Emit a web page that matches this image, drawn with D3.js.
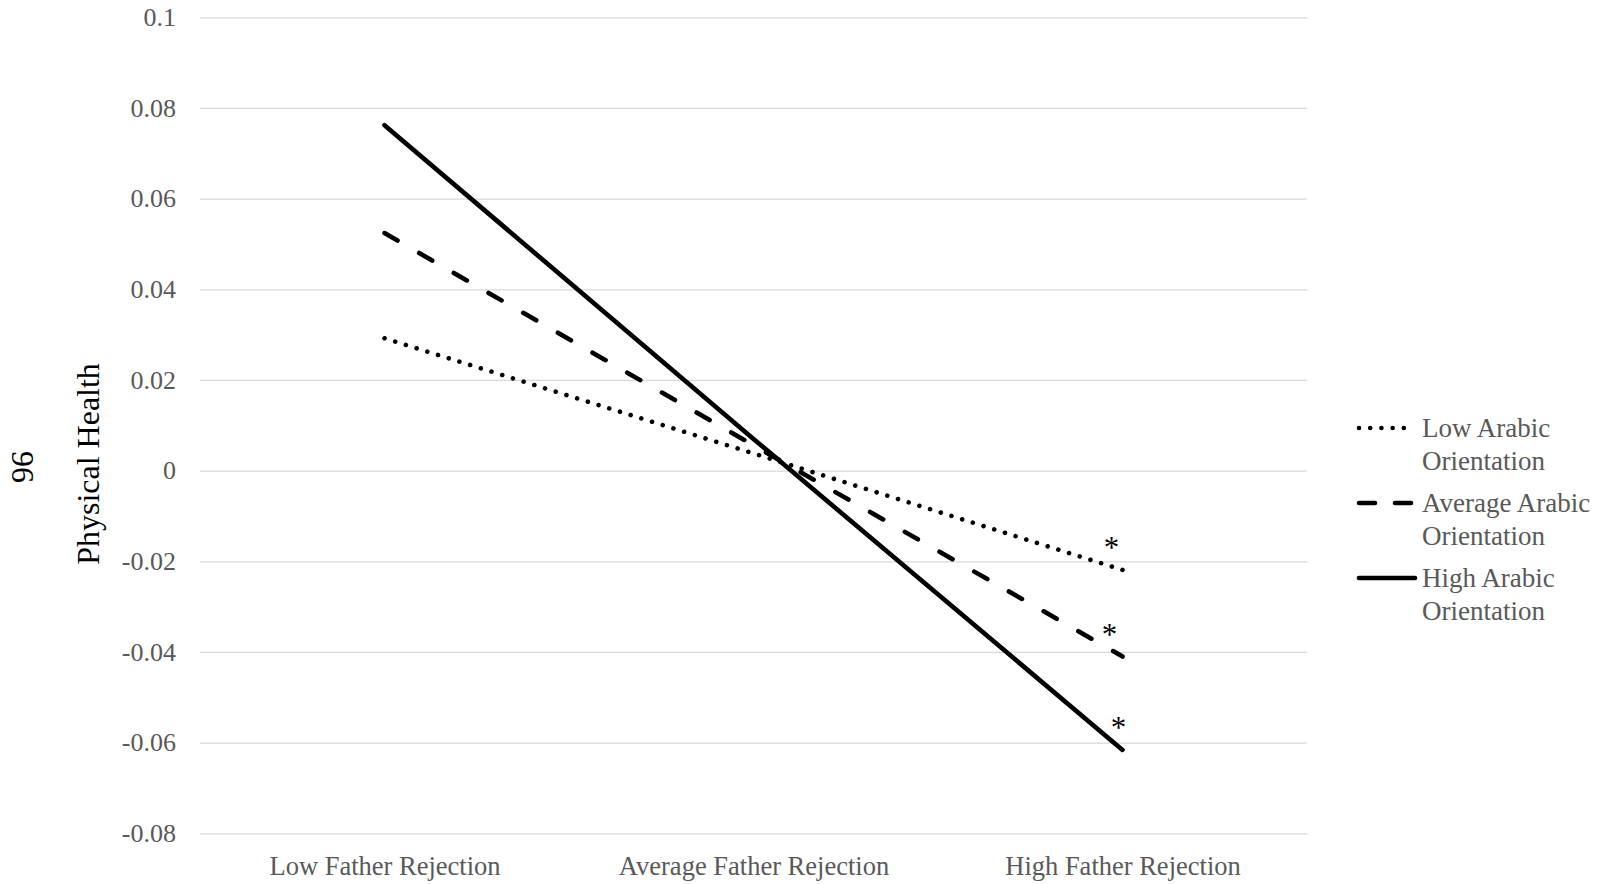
<!DOCTYPE html>
<html>
<head>
<meta charset="utf-8">
<script src="https://cdn.jsdelivr.net/npm/d3@7"></script>
<style>
  html, body { margin: 0; padding: 0; background: #fff; }
  svg { display: block; }
  text { font-family: "Liberation Serif", "Times New Roman", serif; }
</style>
</head>
<body>
<svg id="chart" width="1601" height="884"></svg>
<script>
// categories on the x axis
const categories = ["Low Father Rejection", "Average Father Rejection", "High Father Rejection"]
// simple slopes, one per level of Arabic orientation
const lowArabic = [0.0292, 0.0038, -0.0219]
const averageArabic = [0.0524, 0.0056, -0.0410]
const highArabic = [0.0762, 0.0070, -0.0616]
const seriesNames = [["Low Arabic", "Orientation"], ["Average Arabic", "Orientation"], ["High Arabic", "Orientation"]]
const sigLabels = ["*", "*", "*"]
const yTicks = [-0.08, -0.06, -0.04, -0.02, 0, 0.02, 0.04, 0.06, 0.08, 0.1]

const svg = d3.select("#chart")

const xScale = d3.scalePoint().domain(categories).range([200, 1307]).padding(0.5)
const yScale = d3.scaleLinear().domain([-0.08, 0.1]).range([833.3, 17.3])

// gridlines + y tick labels
const yAxis = d3.axisLeft(yScale)
    .tickValues(yTicks)
    .tickSize(-(1307 - 200))
    .tickPadding(24)
    .tickFormat(d => d === 0 ? "0" : String(+d.toFixed(2)))
const yAxisGroup = svg.append("g").attr("transform", "translate(200,0)").call(yAxis)
yAxisGroup.select(".domain").remove()
yAxisGroup.selectAll("line").attr("stroke", "#d9d9d9").attr("stroke-width", 1.3)
yAxisGroup.selectAll("text")
    .attr("fill", "#595959")
    .style("font-size", "26px")
    .style("font-family", "'Liberation Serif', serif")

// category labels
const xAxis = d3.axisBottom(xScale).tickSize(0).tickPadding(23)
const xAxisGroup = svg.append("g").attr("transform", "translate(0,833.3)").call(xAxis)
xAxisGroup.select(".domain").remove()
xAxisGroup.selectAll("text")
    .attr("fill", "#595959")
    .style("font-size", "26.5px")
    .style("font-family", "'Liberation Serif', serif")

// axis title and page number
svg.append("text")
    .attr("transform", "translate(99,464) rotate(-90)")
    .attr("text-anchor", "middle")
    .style("font-size", "32px")
    .attr("fill", "#000")
    .text("Physical Health")
svg.append("text")
    .attr("transform", "translate(23,467) rotate(90)")
    .attr("text-anchor", "middle")
    .attr("dominant-baseline", "central")
    .style("font-size", "32px")
    .attr("fill", "#000")
    .text("96")

const series = [
    { values: lowArabic, dash: "0.01,11.2", name: seriesNames[0], labelDx: -11 },
    { values: averageArabic, dash: "15,25", name: seriesNames[1], labelDx: -13 },
    { values: highArabic, dash: null, name: seriesNames[2], labelDx: -4 }
]

const line = d3.line()
    .x((d, i) => xScale(categories[i]))
    .y(d => yScale(d))

series.forEach((s, k) => {
    svg.append("path")
        .datum(s.values)
        .attr("fill", "none")
        .attr("stroke", "#000")
        .attr("stroke-width", 4.6)
        .attr("stroke-linecap", "round")
        .attr("stroke-dasharray", s.dash)
        .attr("d", line)

    // significance mark above the last point
    const last = s.values.length - 1
    svg.append("text")
        .attr("x", xScale(categories[last]) + s.labelDx)
        .attr("y", yScale(s.values[last]) - 27 + 15)
        .attr("text-anchor", "middle")
        .style("font-size", "31px")
        .attr("fill", "#000")
        .text(sigLabels[k])
})

// legend
const legend = svg.append("g").attr("transform", "translate(1357,428)")
series.forEach((s, k) => {
    const g = legend.append("g").attr("transform", `translate(0,${k * 75})`)
    g.append("line")
        .attr("x1", 2).attr("x2", 58)
        .attr("y1", 0).attr("y2", 0)
        .attr("stroke", "#000")
        .attr("stroke-width", 4.6)
        .attr("stroke-linecap", "round")
        .attr("stroke-dasharray", s.dash === null ? null : (k === 0 ? "0.01,11.2" : "16,20"))
    s.name.forEach((t, j) => {
        g.append("text")
            .attr("x", 65)
            .attr("y", j * 33)
            .attr("dominant-baseline", "central")
            .attr("fill", "#595959")
            .style("font-size", "27px")
            .text(t)
    })
})
</script>
</body>
</html>
